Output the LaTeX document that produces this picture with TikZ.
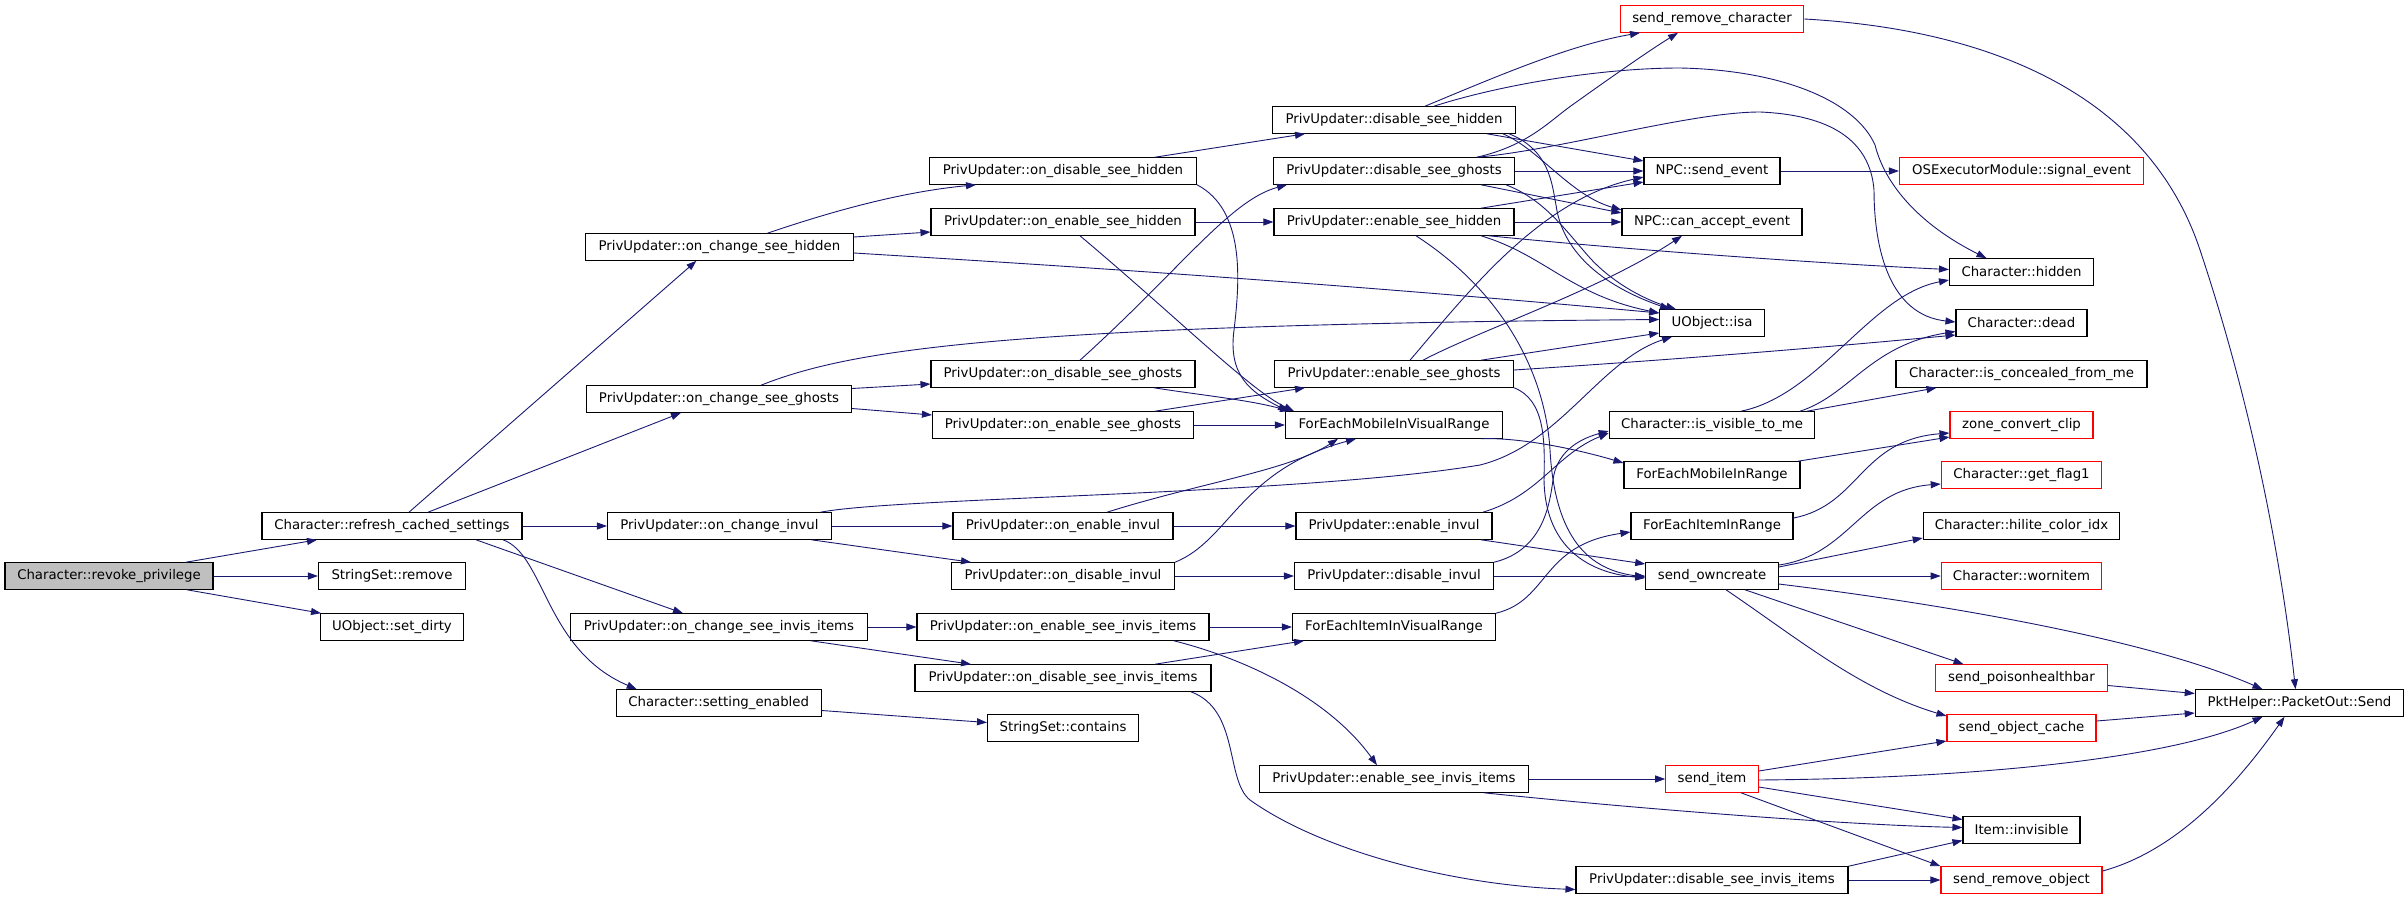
\documentclass[tikz,border=0pt]{standalone}
\usepackage{fontspec}
\setmainfont{DejaVu Sans}
\usetikzlibrary{arrows.meta}
\definecolor{edgeblue}{RGB}{25,25,112}
\definecolor{rootgray}{RGB}{191,191,191}
\begin{document}
\begin{tikzpicture}[x=1pt,y=-1pt,
  box/.style={draw=black,line width=1.1pt,fill=white,rectangle,minimum height=26.5pt,inner sep=0pt,font=\fontsize{13.3pt}{16pt}\selectfont},
  redbox/.style={box,draw=red},
  rootbox/.style={box,fill=rootgray},
  edge/.style={draw=edgeblue,line width=0.9pt,-{Triangle[length=10pt,width=7pt]}}]
\useasboundingbox (0,0) rectangle (2408,899);
% nodes
\node[rootbox,minimum width=208pt] (rp) at (109,576) {Character::revoke\_privilege};
\node[box,minimum width=260pt] (rcs) at (392,526) {Character::refresh\_cached\_settings};
\node[box,minimum width=147pt] (ssr) at (392,576) {StringSet::remove};
\node[box,minimum width=143pt] (sd) at (392,627) {UObject::set\_dirty};
\node[box,minimum width=268pt] (ocsh) at (719.4,247) {PrivUpdater::on\_change\_see\_hidden};
\node[box,minimum width=265pt] (ocsg) at (719,399) {PrivUpdater::on\_change\_see\_ghosts};
\node[box,minimum width=224pt] (oci) at (719.5,526) {PrivUpdater::on\_change\_invul};
\node[box,minimum width=297pt] (ocsii) at (719,627) {PrivUpdater::on\_change\_see\_invis\_items};
\node[box,minimum width=205pt] (se) at (718.7,703) {Character::setting\_enabled};
\node[box,minimum width=267pt] (odsh) at (1063,171) {PrivUpdater::on\_disable\_see\_hidden};
\node[box,minimum width=264pt] (oesh) at (1063,222) {PrivUpdater::on\_enable\_see\_hidden};
\node[box,minimum width=264pt] (odsg) at (1063,374) {PrivUpdater::on\_disable\_see\_ghosts};
\node[box,minimum width=261pt] (oesg) at (1063,425) {PrivUpdater::on\_enable\_see\_ghosts};
\node[box,minimum width=220pt] (oei) at (1063,526) {PrivUpdater::on\_enable\_invul};
\node[box,minimum width=223pt] (odi) at (1063,576) {PrivUpdater::on\_disable\_invul};
\node[box,minimum width=292pt] (oesii) at (1063,627) {PrivUpdater::on\_enable\_see\_invis\_items};
\node[box,minimum width=296pt] (odsii) at (1063,678) {PrivUpdater::on\_disable\_see\_invis\_items};
\node[box,minimum width=151pt] (ssc) at (1063,728) {StringSet::contains};
\node[box,minimum width=243pt] (dsh) at (1394,120) {PrivUpdater::disable\_see\_hidden};
\node[box,minimum width=241pt] (dsg) at (1394,171) {PrivUpdater::disable\_see\_ghosts};
\node[box,minimum width=240pt] (esh) at (1394,222) {PrivUpdater::enable\_see\_hidden};
\node[box,minimum width=239pt] (esg) at (1394,374) {PrivUpdater::enable\_see\_ghosts};
\node[box,minimum width=217pt] (femvr) at (1394,425) {ForEachMobileInVisualRange};
\node[box,minimum width=196pt] (ei) at (1394,526) {PrivUpdater::enable\_invul};
\node[box,minimum width=199pt] (di) at (1394,576) {PrivUpdater::disable\_invul};
\node[box,minimum width=203pt] (feivr) at (1394,627) {ForEachItemInVisualRange};
\node[box,minimum width=269pt] (esii) at (1394,779) {PrivUpdater::enable\_see\_invis\_items};
\node[box,minimum width=272pt] (dsii) at (1712,880) {PrivUpdater::disable\_see\_invis\_items};
\node[redbox,minimum width=183.5pt] (src) at (1712,19) {send\_remove\_character};
\node[box,minimum width=136pt] (sev) at (1712,171) {NPC::send\_event};
\node[box,minimum width=180pt] (cae) at (1712,222) {NPC::can\_accept\_event};
\node[box,minimum width=104.5pt] (isa) at (1712,323) {UObject::isa};
\node[box,minimum width=205.6pt] (ivm) at (1712,425) {Character::is\_visible\_to\_me};
\node[box,minimum width=176pt] (femir) at (1712,475) {ForEachMobileInRange};
\node[box,minimum width=162pt] (feir) at (1712,526) {ForEachItemInRange};
\node[box,minimum width=132.5pt] (so) at (1712,576) {send\_owncreate};
\node[redbox,minimum width=92.5pt] (sitem) at (1712,779) {send\_item};
\node[redbox,minimum width=244pt] (ose) at (2021.5,171) {OSExecutorModule::signal\_event};
\node[box,minimum width=144pt] (chid) at (2021.5,272) {Character::hidden};
\node[box,minimum width=131pt] (cdead) at (2021.5,323) {Character::dead};
\node[box,minimum width=251pt] (icfm) at (2021.5,374) {Character::is\_concealed\_from\_me};
\node[redbox,minimum width=143pt] (zcc) at (2021.5,425) {zone\_convert\_clip};
\node[redbox,minimum width=160.5pt] (gf1) at (2021.5,475) {Character::get\_flag1};
\node[box,minimum width=196.5pt] (hci) at (2021.5,526) {Character::hilite\_color\_idx};
\node[redbox,minimum width=160.5pt] (worn) at (2021.5,576) {Character::wornitem};
\node[redbox,minimum width=172pt] (spb) at (2021.5,678) {send\_poisonhealthbar};
\node[redbox,minimum width=149pt] (soc) at (2021.5,728) {send\_object\_cache};
\node[box,minimum width=117pt] (iinv) at (2021.5,830) {Item::invisible};
\node[redbox,minimum width=161pt] (sro) at (2021.5,880) {send\_remove\_object};
\node[box,minimum width=208.5pt] (send) at (2299.5,703) {PktHelper::PacketOut::Send};
% edges
\draw[edge] ([xshift=77pt]rp.north) -- ([xshift=-75pt]rcs.south);
\draw[edge] (rp.east) -- (ssr.west);
\draw[edge] ([xshift=78pt]rp.south) -- ([xshift=-71pt]sd.north);
\draw[edge] ([xshift=17pt]rcs.north) -- ([xshift=-23pt]ocsh.south);
\draw[edge] ([xshift=36pt]rcs.north) -- ([xshift=-38pt]ocsg.south);
\draw[edge] (rcs.east) -- (oci.west);
\draw[edge] ([xshift=84pt]rcs.south) -- ([xshift=-36pt]ocsii.north);
\draw[edge] ([xshift=111pt]rcs.south) .. controls (545,555) and (545,650) .. ([xshift=-82pt]se.north);
\draw[edge] ([xshift=48pt]ocsh.north) .. controls (830,212) and (900,192) .. ([xshift=-87pt]odsh.south);
\draw[edge] ([yshift=10pt]ocsh.east) -- ([yshift=-10pt]oesh.west);
\draw[edge] ([yshift=-6pt]ocsh.east) .. controls (1000,262) and (1300,280) .. ([yshift=10pt]isa.west);
\draw[edge] ([yshift=10.5pt]ocsg.east) -- ([yshift=-10pt]odsg.west);
\draw[edge] ([yshift=-9.5pt]ocsg.east) -- ([yshift=10pt]oesg.west);
\draw[edge] ([xshift=42pt]ocsg.north) .. controls (850,350) and (1000,325) .. ([yshift=3.5pt]isa.west);
\draw[edge] (oci.east) -- (oei.west);
\draw[edge] ([xshift=92pt]oci.south) -- ([xshift=-92pt]odi.north);
\draw[edge] ([xshift=101pt]oci.north) .. controls (900,497) and (1300,495) .. (1480,465) .. controls (1560,445) and (1600,360) .. ([xshift=-40pt]isa.south);
\draw[edge] ([xshift=92pt]odsh.north) -- ([xshift=-89pt]dsh.south);
\draw[edge] (odsh.south east) .. controls (1245,210) and (1240,280) .. (1234,330) .. controls (1228,375) and (1250,392) .. ([xshift=-106pt]femvr.north);
\draw[edge] (oesh.east) -- (esh.west);
\draw[edge] ([xshift=17pt]oesh.south) .. controls (1180,320) and (1250,390) .. ([xshift=-100pt]femvr.north);
\draw[edge] ([xshift=17pt]odsg.north) .. controls (1180,270) and (1230,200) .. ([xshift=-107pt]dsg.south);
\draw[edge] ([xshift=91pt]odsg.south) .. controls (1200,395) and (1250,400) .. ([xshift=-104pt]femvr.north);
\draw[edge] ([xshift=92pt]oesg.north) -- ([xshift=-89pt]esg.south);
\draw[edge] (oesg.east) -- (femvr.west);
\draw[edge] (oei.east) -- (ei.west);
\draw[edge] ([xshift=44pt]oei.north) .. controls (1200,483) and (1290,470) .. ([xshift=-56pt]femvr.south);
\draw[edge] (odi.east) -- (di.west);
\draw[edge] (odi.north east) .. controls (1230,540) and (1240,470) .. ([xshift=-38pt]femvr.south);
\draw[edge] (ocsii.east) -- (oesii.west);
\draw[edge] ([xshift=92pt]ocsii.south) -- ([xshift=-92pt]odsii.north);
\draw[edge] (oesii.east) -- (feivr.west);
\draw[edge] ([xshift=111pt]oesii.south) .. controls (1250,660) and (1330,700) .. ([xshift=-17pt]esii.north);
\draw[edge] ([xshift=92pt]odsii.north) -- ([xshift=-90pt]feivr.south);
\draw[edge] ([xshift=128pt]odsii.south) .. controls (1240,710) and (1225,780) .. (1250,800) .. controls (1320,850) and (1450,885) .. ([yshift=-9.5pt]dsii.west);
\draw[edge] ([yshift=-7.5pt]se.east) -- ([yshift=5.5pt]ssc.west);
\draw[edge] ([xshift=31pt]dsh.north) .. controls (1500,75) and (1570,45) .. ([xshift=-72pt]src.south);
\draw[edge] ([xshift=40pt]dsh.north) .. controls (1500,85) and (1600,68) .. (1680,68) .. controls (1780,70) and (1855,100) .. (1875,145) .. controls (1885,185) and (1920,225) .. ([xshift=-35pt]chid.north);
\draw[edge] ([xshift=93pt]dsh.south) -- ([yshift=10pt]sev.west);
\draw[edge] ([xshift=109pt]dsh.south) .. controls (1540,150) and (1570,195) .. ([yshift=12pt]cae.west);
\draw[edge] ([xshift=115pt]dsh.south) .. controls (1550,150) and (1552,185) .. (1556,205) .. controls (1562,250) and (1600,285) .. ([xshift=-42pt]isa.north);
\draw[edge] (dsg.east) -- (sev.west);
\draw[edge] ([xshift=87pt]dsg.south) -- ([yshift=9pt]cae.west);
\draw[edge] ([xshift=112pt]dsg.south) .. controls (1545,200) and (1565,230) .. (1590,258) .. controls (1610,280) and (1640,298) .. ([xshift=-36pt]isa.north);
\draw[edge] ([xshift=83pt]dsg.north) .. controls (1530,145) and (1550,120) .. (1575,103) .. controls (1610,78) and (1650,50) .. ([xshift=-34pt]src.south);
\draw[edge] ([xshift=83pt]dsg.north) .. controls (1560,150) and (1690,112) .. (1760,112) .. controls (1830,115) and (1870,140) .. (1874,190) .. controls (1874,250) and (1890,315) .. ([yshift=1pt]cdead.west);
\draw[edge] (esh.east) -- (cae.west);
\draw[edge] ([xshift=87pt]esh.north) -- ([yshift=-11pt]sev.west);
\draw[edge] ([xshift=87pt]esh.south) .. controls (1545,255) and (1570,295) .. ([yshift=10pt]isa.west);
\draw[edge] ([xshift=95pt]esh.south) .. controls (1650,252) and (1850,265) .. ([yshift=2.5pt]chid.west);
\draw[edge] ([xshift=22pt]esh.south) .. controls (1500,290) and (1545,370) .. (1550,450) .. controls (1555,540) and (1590,570) .. ([yshift=-1pt]so.west);
\draw[edge] ([xshift=16pt]esg.north) .. controls (1470,290) and (1540,200) .. ([yshift=-6pt]sev.west);
\draw[edge] ([xshift=29pt]esg.north) .. controls (1480,330) and (1600,290) .. ([xshift=-30pt]cae.south);
\draw[edge] ([xshift=87pt]esg.north) -- ([yshift=-10pt]isa.west);
\draw[edge] ([yshift=4pt]esg.east) .. controls (1700,358) and (1850,345) .. ([yshift=-12pt]cdead.west);
\draw[edge] (esg.south east) .. controls (1545,400) and (1545,440) .. (1544,480) .. controls (1545,540) and (1580,572) .. ([yshift=-2pt]so.west);
\draw[edge] ([xshift=87pt]femvr.south) .. controls (1520,437) and (1580,450) .. ([yshift=12pt]femir.west);
\draw[edge] ([xshift=86pt]femir.north) -- ([yshift=-12pt]zcc.west);
\draw[edge] ([yshift=8pt]feir.east) .. controls (1860,505) and (1860,440) .. ([yshift=-8pt]zcc.west);
\draw[edge] ([xshift=29pt]ivm.north) .. controls (1820,395) and (1870,295) .. ([yshift=-8pt]chid.west);
\draw[edge] ([xshift=88pt]ivm.north) .. controls (1850,395) and (1870,345) .. ([yshift=-8.5pt]cdead.west);
\draw[edge] ([xshift=95pt]ivm.north) -- ([xshift=-85pt]icfm.south);
\draw[edge] ([xshift=89pt]ei.north) .. controls (1540,495) and (1555,455) .. ([yshift=-8pt]ivm.west);
\draw[edge] ([xshift=87pt]ei.south) -- ([yshift=12pt]so.west);
\draw[edge] (di.north east) .. controls (1545,550) and (1550,500) .. (1553,480) .. controls (1556,455) and (1575,440) .. ([yshift=-6pt]ivm.west);
\draw[edge] (di.east) -- (so.west);
\draw[edge] (feivr.north east) .. controls (1550,600) and (1540,545) .. ([yshift=-6pt]feir.west);
\draw[edge] ([yshift=11pt]so.east) .. controls (1850,555) and (1860,490) .. ([yshift=-9pt]gf1.west);
\draw[edge] ([yshift=9pt]so.east) -- ([yshift=-12pt]hci.west);
\draw[edge] (so.east) -- (worn.west);
\draw[edge] ([yshift=-8pt]so.east) .. controls (1950,605) and (2150,640) .. ([xshift=-37pt]send.north);
\draw[edge] ([xshift=33pt]so.south) -- ([xshift=-58pt]spb.north);
\draw[edge] ([xshift=14pt]so.south) .. controls (1800,640) and (1860,690) .. ([yshift=12pt]soc.west);
\draw[edge] (esii.east) -- (sitem.west);
\draw[edge] ([xshift=90pt]esii.south) .. controls (1650,810) and (1850,825) .. ([yshift=2.5pt]iinv.west);
\draw[edge] ([yshift=8pt]sitem.east) -- ([yshift=-13pt]soc.west);
\draw[edge] ([yshift=-1pt]sitem.east) .. controls (2000,778) and (2180,755) .. ([xshift=-37pt]send.south);
\draw[edge] ([yshift=-8pt]sitem.east) -- ([yshift=10.5pt]iinv.west);
\draw[edge] ([xshift=29pt]sitem.south) -- (sro.north west);
\draw[edge] (dsii.north east) -- ([yshift=-10.5pt]iinv.west);
\draw[edge] (dsii.east) -- (sro.west);
\draw[edge] ([yshift=9pt]sro.east) .. controls (2180,850) and (2240,780) .. ([xshift=-15pt]send.south);
\draw[edge] ([yshift=-7.5pt]spb.east) -- ([yshift=9.5pt]send.west);
\draw[edge] ([yshift=7pt]soc.east) -- ([yshift=-10pt]send.west);
\draw[edge] (src.east) .. controls (2000,30) and (2150,100) .. (2200,250) .. controls (2250,400) and (2280,550) .. ([xshift=-4pt]send.north);
\draw[edge] (sev.east) -- (ose.west);
\end{tikzpicture}
\end{document}
